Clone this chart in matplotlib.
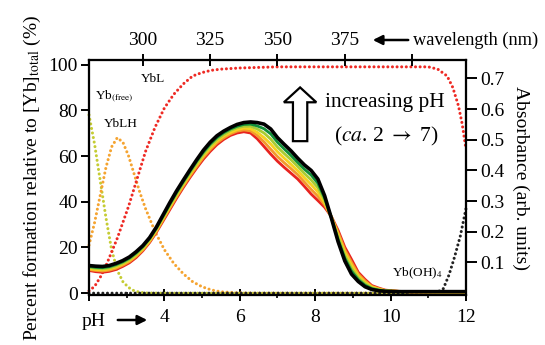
import matplotlib
matplotlib.use('Agg')
import matplotlib.pyplot as plt
import matplotlib.patches as mpatches

plt.rcParams['font.family'] = ['Liberation Serif', 'DejaVu Serif']
plt.rcParams['mathtext.fontset'] = 'stix'

# speciation (bottom pH axis, left % axis)
ph_free = [2.0, 2.15, 2.3, 2.45, 2.6, 2.75, 2.9, 3.05, 3.2, 3.35, 3.5, 4.0, 12.0]
yb_free = [78, 65, 49, 33, 19, 10, 5, 2.5, 1, 0.4, 0.1, 0, 0]

ph_lh = [2.0, 2.15, 2.3, 2.45, 2.6, 2.75, 2.9, 3.05, 3.2, 3.35, 3.5, 3.75, 4.0,
         4.25, 4.5, 4.75, 5.0, 5.25, 5.5, 6.0, 6.5, 12.0]
yb_lh = [21, 31, 43, 55, 64, 68, 66, 60, 52, 44, 37, 27, 19,
         13, 8.5, 5, 2.8, 1.4, 0.6, 0.1, 0, 0]

ph_l = [2.0, 2.15, 2.3, 2.45, 2.6, 2.75, 2.9, 3.05, 3.2, 3.35, 3.5, 3.75, 4.0,
        4.25, 4.5, 4.75, 5.0, 5.25, 5.5, 6.0, 7.0, 11.0, 11.25, 11.5, 11.65,
        11.8, 11.9, 12.0]
yb_l = [1, 3, 7, 12, 18, 24, 31, 38, 46, 54, 62, 72.5, 81,
        87, 91.5, 95, 96.5, 97.5, 98, 98.5, 99, 99, 98, 95, 90,
        82, 74, 63]

ph_oh = [2.0, 11.0, 11.25, 11.4, 11.55, 11.7, 11.85, 12.0]
yb_oh = [0, 0, 0.5, 2, 8, 16, 25, 37]

# absorbance spectra (top wavelength axis, right axis), pH ~2 -> 7
wl = [280, 282.5, 285, 287.5, 290, 292.5, 295, 297.5, 300, 302.5, 305, 307.5, 310,
      312.5, 315, 317.5, 320, 322.5, 325, 327.5, 330, 332.5, 335, 337.5, 340, 342.5,
      345, 347.5, 350, 352.5, 355, 357.5, 360, 362.5, 365, 367.5, 370, 372.5, 375,
      377.5, 380, 382.5, 385, 387.5, 390, 395, 400, 410, 420]
abs_ph2 = [.074, .070, .068, .071, .077, .087, .099, .116, .138, .165, .198, .235, .272,
           .309, .344, .377, .408, .437, .462, .484, .501, .514, .522, .526, .522, .503,
           .478, .453, .430, .410, .391, .372, .348, .323, .302, .280, .250, .205, .150,
           .110, .068, .045, .025, .017, .010, .006, .004, .003, .003]
abs_a = [.077, .074, .072, .075, .081, .091, .103, .120, .141, .168, .201, .239, .277,
         .314, .349, .382, .413, .443, .468, .490, .506, .519, .528, .532, .529, .514,
         .493, .469, .445, .425, .406, .386, .362, .338, .316, .288, .249, .198, .141,
         .100, .062, .040, .022, .015, .009, .006, .004, .003, .003]
abs_b = [.080, .077, .076, .079, .085, .095, .107, .124, .145, .171, .205, .243, .281,
         .319, .354, .387, .419, .449, .474, .496, .512, .524, .533, .538, .536, .524,
         .507, .486, .461, .440, .420, .399, .376, .354, .330, .295, .248, .190, .132,
         .091, .056, .035, .020, .013, .008, .006, .004, .004, .004]
abs_c = [.084, .081, .079, .082, .089, .098, .110, .127, .148, .175, .208, .247, .286,
         .323, .358, .392, .424, .454, .480, .501, .517, .530, .539, .544, .544, .535,
         .522, .502, .476, .455, .435, .413, .390, .369, .344, .303, .247, .183, .123,
         .081, .050, .031, .017, .012, .008, .005, .005, .004, .004]
abs_d = [.087, .084, .083, .086, .093, .102, .114, .131, .152, .178, .212, .251, .290,
         .328, .363, .397, .430, .460, .486, .507, .523, .535, .544, .550, .551, .545,
         .536, .519, .492, .470, .449, .426, .404, .385, .358, .310, .246, .175, .114,
         .072, .044, .026, .015, .010, .007, .005, .005, .005, .005]
abs_ph7 = [.090, .088, .087, .090, .097, .106, .118, .135, .155, .181, .215, .255, .295,
           .333, .368, .402, .435, .466, .492, .513, .528, .540, .550, .556, .558, .556,
           .551, .535, .507, .485, .464, .440, .418, .400, .372, .318, .245, .168, .105,
           .062, .038, .021, .012, .008, .006, .005, .005, .005, .005]

spectra = [abs_ph2, abs_a, abs_b, abs_c, abs_d, abs_ph7]
spec_colors = ['#e8231f', '#f39a2c', '#f6d21f', '#a9cc33', '#12903a', '#000000']
spec_lw = [2.0, 2.0, 2.0, 2.0, 2.0, 2.6]

fig = plt.figure(figsize=(5.45, 3.45), dpi=100)
ax = fig.add_axes([0.1633, 0.1449, 0.6917, 0.6812])

dot = (0, (0.01, 1.5))
for xs, ys, c in [(ph_free, yb_free, '#c5cc34'), (ph_lh, yb_lh, '#f5a431'),
                  (ph_l, yb_l, '#ee2a24'), (ph_oh, yb_oh, '#222222')]:
    ax.plot(xs, ys, color=c, lw=2.2, ls=dot, dash_capstyle='round', clip_on=False)

ax.set_xlim(2, 12)
ax.set_ylim(-0.8, 102)
ax.set_xticks([2, 4, 6, 8, 10, 12])
ax.set_xticklabels(['', '4', '6', '8', '10', '12'])
ax.set_xticks([3, 5, 7, 9, 11], minor=True)
ax.set_yticks([0, 20, 40, 60, 80, 100])
ax.tick_params(axis='x', which='major', direction='inout', length=8, width=1.4, pad=6, labelsize=14)
ax.tick_params(axis='x', which='minor', direction='inout', length=5, width=1.2)
ax.tick_params(axis='y', direction='out', length=6, width=1.4, pad=2, labelsize=14)
ax.set_ylabel('Percent formation relative to [Yb]$_{\\rm total}$ (%)', fontsize=14, labelpad=4)

ax2 = ax.twinx()
ax2.set_ylim(-0.006, 0.76)
ax2.set_yticks([0.1, 0.2, 0.3, 0.4, 0.5, 0.6, 0.7])
ax2.tick_params(axis='y', direction='out', length=8, width=1.4, pad=2, labelsize=14)
ax2.set_ylabel('Absorbance (arb. units)', fontsize=14, rotation=270, labelpad=18)

ax3 = ax2.twiny()
for s, c, w in zip(spectra, spec_colors, spec_lw):
    ax3.plot(wl, s, color=c, lw=w, solid_capstyle='round', solid_joinstyle='round')
ax3.set_xlim(280, 420)
ax3.set_xticks([300, 325, 350, 375, 400])
ax3.set_xticklabels(['300', '325', '350', '375', ''])
ax3.tick_params(axis='x', direction='inout', length=8, width=1.4, pad=4, labelsize=14)

for a in (ax, ax2, ax3):
    for sp in a.spines.values():
        sp.set_linewidth(1.5)

# species labels
ax.text(2.15, 86, 'Yb$_{\\rm (free)}$', fontsize=9.5, ha='left', va='center')
ax.text(2.85, 74, 'YbLH', fontsize=9.5, ha='center', va='center')
ax.text(3.7, 93.5, 'YbL', fontsize=9.5, ha='center', va='center')
ax.text(10.7, 8.7, 'Yb(OH)$_4$', fontsize=9.5, ha='center', va='center')

# hollow arrow + note
ax.add_patch(mpatches.FancyArrow(7.6, 66.5, 0, 23.5, width=0.38, head_width=0.86,
                                 head_length=6.5, length_includes_head=True,
                                 facecolor='white', edgecolor='black', lw=1.6))
ax.text(9.85, 83.5, 'increasing pH', fontsize=15.5, ha='center', va='center')
ax.text(9.9, 68.7, '($\\it{ca}$. 2 $\\rightarrow$ 7)', fontsize=15.5, ha='center', va='center')

# axis arrows
fig.text(82 / 545, 1 - 321 / 345, 'pH', fontsize=14, ha='left', va='center')
fig.add_artist(mpatches.FancyArrowPatch((115 / 545, 1 - 320 / 345), (150 / 545, 1 - 320 / 345),
                                        transform=fig.transFigure, arrowstyle='-|>',
                                        mutation_scale=14, lw=1.8, color='black'))
fig.add_artist(mpatches.FancyArrowPatch((411 / 545, 1 - 40 / 345), (370 / 545, 1 - 40 / 345),
                                        transform=fig.transFigure, arrowstyle='-|>',
                                        mutation_scale=14, lw=1.8, color='black'))
fig.text(413 / 545, 1 - 40 / 345, 'wavelength (nm)', fontsize=13.2, ha='left', va='center')

fig.savefig('out.png', dpi=100)
